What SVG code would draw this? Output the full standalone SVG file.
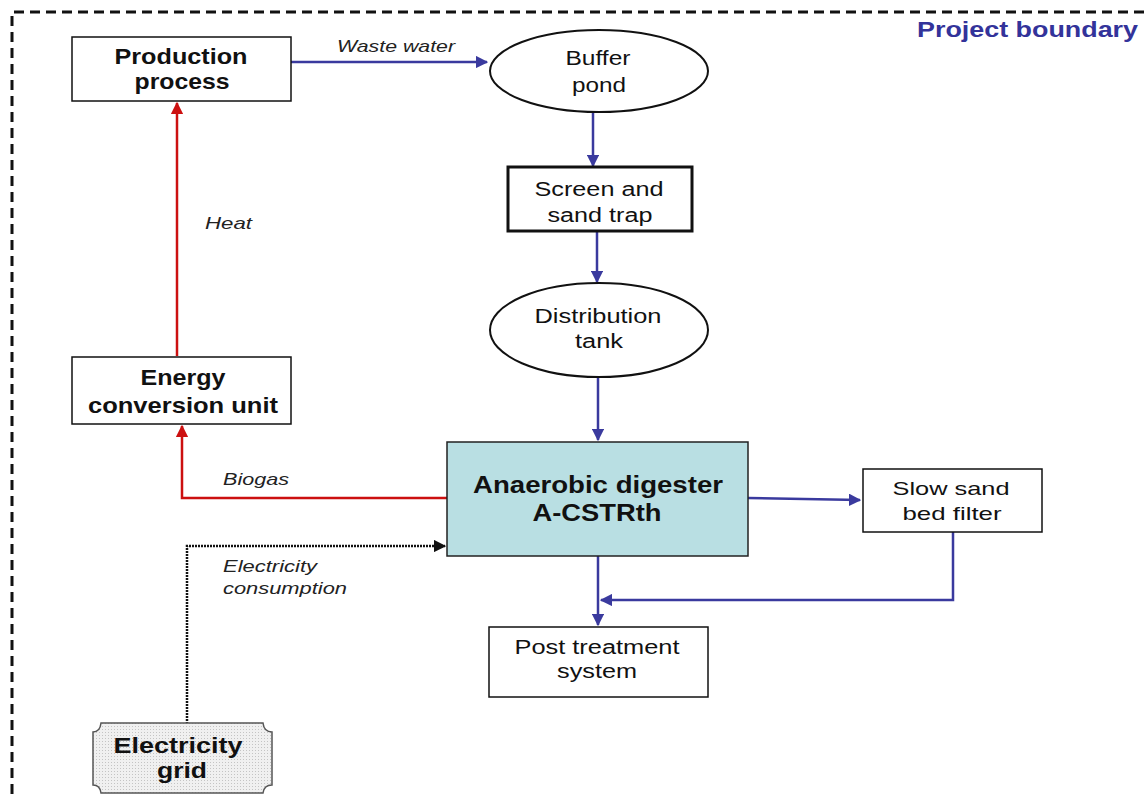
<svg xmlns="http://www.w3.org/2000/svg" width="1148" height="800" viewBox="0 0 1148 800">
<defs>
<style>
.box{fill:#fff;stroke:#111;stroke-width:1.5}
.t{font-family:"Liberation Sans",Arial,sans-serif;fill:#111;text-anchor:middle}
.b{font-weight:bold;font-size:22px}
.r{font-size:20px}
.lab{font-family:"Liberation Sans",Arial,sans-serif;font-style:italic;font-size:17px;fill:#222}
.blue{stroke:#3a3a9e;stroke-width:2.5;fill:none}
.red{stroke:#cc1010;stroke-width:2.5;fill:none}
</style>
<marker id="ab" viewBox="0 0 10 10" refX="9" refY="5" markerWidth="5" markerHeight="5" orient="auto" markerUnits="strokeWidth"><path d="M0,0 L10,5 L0,10 z" fill="#3a3a9e"/></marker>
<marker id="ar" viewBox="0 0 10 10" refX="9" refY="5" markerWidth="5" markerHeight="5" orient="auto" markerUnits="strokeWidth"><path d="M0,0 L10,5 L0,10 z" fill="#cc1010"/></marker>
<marker id="ak" viewBox="0 0 10 10" refX="9" refY="5" markerWidth="5" markerHeight="5" orient="auto" markerUnits="strokeWidth"><path d="M0,0 L10,5 L0,10 z" fill="#111"/></marker>
<pattern id="dots" width="3" height="3" patternUnits="userSpaceOnUse"><rect width="3" height="3" fill="#f0f0f0"/><rect width="1" height="1" fill="#c4c4c4"/></pattern>
</defs>
<rect width="1148" height="800" fill="#fff"/>
<g id="boundary">
<path d="M12,810 L12,12 L1160,12" fill="none" stroke="#111" stroke-width="3" stroke-dasharray="10,6"/>
<text x="917" y="37" font-family="Liberation Sans,Arial,sans-serif" font-weight="bold" font-size="22" fill="#33339a" textLength="221" lengthAdjust="spacingAndGlyphs">Project boundary</text>
</g>
<g id="connectors">
<path class="blue" d="M291,62 L487,62" marker-end="url(#ab)"/>
<path class="blue" d="M593,112 L593,166" marker-end="url(#ab)"/>
<path class="blue" d="M597,231 L597,282" marker-end="url(#ab)"/>
<path class="blue" d="M598,377 L598,440" marker-end="url(#ab)"/>
<path class="blue" d="M748,498 L860,500" marker-end="url(#ab)"/>
<path class="blue" d="M598,556 L598,625" marker-end="url(#ab)"/>
<path class="blue" d="M953,532 L953,600 L601,600" marker-end="url(#ab)"/>
<path class="red" d="M447,498 L182,498 L182,426" marker-end="url(#ar)"/>
<path class="red" d="M177,356 L177,103" marker-end="url(#ar)"/>
<path d="M187,727 L187,546 L445,546" fill="none" stroke="#111" stroke-width="2.5" stroke-dasharray="2,1" marker-end="url(#ak)"/>
<text class="lab" x="337" y="52" textLength="118" lengthAdjust="spacingAndGlyphs">Waste water</text>
<text class="lab" x="205" y="229" textLength="47" lengthAdjust="spacingAndGlyphs">Heat</text>
<text class="lab" x="223" y="485" textLength="66" lengthAdjust="spacingAndGlyphs">Biogas</text>
<text class="lab" x="223" y="572" textLength="94" lengthAdjust="spacingAndGlyphs">Electricity</text>
<text class="lab" x="223" y="594" textLength="124" lengthAdjust="spacingAndGlyphs">consumption</text>
</g>
<g id="production">
<rect class="box" x="72" y="37" width="219" height="64"/>
<text class="t b" x="181" y="64" textLength="133" lengthAdjust="spacingAndGlyphs">Production</text>
<text class="t b" x="182" y="89" textLength="95" lengthAdjust="spacingAndGlyphs">process</text>
</g>
<g id="buffer">
<ellipse cx="599" cy="71" rx="109" ry="41" fill="#fff" stroke="#111" stroke-width="2"/>
<text class="t r" x="598" y="65" textLength="65" lengthAdjust="spacingAndGlyphs">Buffer</text>
<text class="t r" x="599" y="92" textLength="54" lengthAdjust="spacingAndGlyphs">pond</text>
</g>
<g id="screen">
<rect x="508" y="167" width="184" height="64" fill="#fff" stroke="#111" stroke-width="3"/>
<text class="t r" x="599" y="196" textLength="129" lengthAdjust="spacingAndGlyphs">Screen and</text>
<text class="t r" x="600" y="222" textLength="105" lengthAdjust="spacingAndGlyphs">sand trap</text>
</g>
<g id="distribution">
<ellipse cx="599" cy="330" rx="109" ry="47" fill="#fff" stroke="#111" stroke-width="2"/>
<text class="t r" x="598" y="323" textLength="127" lengthAdjust="spacingAndGlyphs">Distribution</text>
<text class="t r" x="599" y="348" textLength="48" lengthAdjust="spacingAndGlyphs">tank</text>
</g>
<g id="energy">
<rect class="box" x="72" y="357" width="219" height="67"/>
<text class="t b" x="183" y="385" textLength="85" lengthAdjust="spacingAndGlyphs">Energy</text>
<text class="t b" x="183" y="413" textLength="190" lengthAdjust="spacingAndGlyphs">conversion unit</text>
</g>
<g id="digester">
<rect x="447" y="442" width="301" height="114" fill="#b9dfe3" stroke="#222" stroke-width="1.5"/>
<text class="t" x="598" y="493" font-weight="bold" font-size="23" textLength="250" lengthAdjust="spacingAndGlyphs">Anaerobic digester</text>
<text class="t" x="597" y="521" font-weight="bold" font-size="23" textLength="129" lengthAdjust="spacingAndGlyphs">A-CSTRth</text>
</g>
<g id="filter">
<rect class="box" x="863" y="469" width="179" height="63"/>
<text class="t" x="951" y="495" font-size="19" textLength="117" lengthAdjust="spacingAndGlyphs">Slow sand</text>
<text class="t" x="952" y="520" font-size="19" textLength="99" lengthAdjust="spacingAndGlyphs">bed filter</text>
</g>
<g id="post">
<rect class="box" x="489" y="627" width="219" height="70"/>
<text class="t r" x="597" y="654" textLength="165" lengthAdjust="spacingAndGlyphs">Post treatment</text>
<text class="t r" x="597" y="678" textLength="80" lengthAdjust="spacingAndGlyphs">system</text>
</g>
<g id="grid">
<path d="M101,723 L263,723 Q264,732 272,732 L272,785 Q264,785 263,793 L101,793 Q100,785 93,785 L93,732 Q100,732 101,723 Z" fill="url(#dots)" stroke="#555" stroke-width="1.5"/>
<text class="t" x="178" y="753" font-weight="bold" font-size="22" textLength="129" lengthAdjust="spacingAndGlyphs">Electricity</text>
<text class="t" x="182" y="778" font-weight="bold" font-size="22" textLength="50" lengthAdjust="spacingAndGlyphs">grid</text>
</g>
</svg>
